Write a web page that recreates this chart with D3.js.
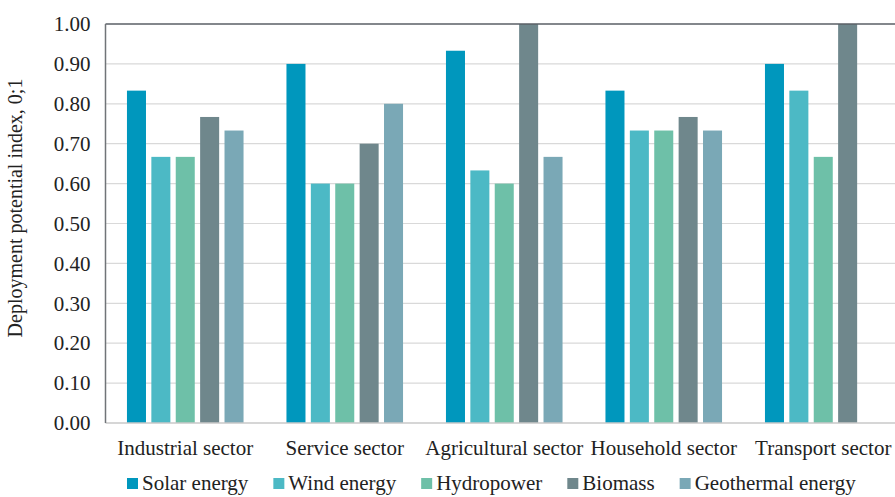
<!DOCTYPE html>
<html><head><meta charset="utf-8">
<script src="https://cdn.jsdelivr.net/npm/d3@7"></script>
<style>body{margin:0;background:#fff}svg{display:block}</style>
</head><body><svg id="c" width="895" height="497"></svg>
<script>
const categories = ["Industrial sector","Service sector","Agricultural sector","Household sector","Transport sector"];
const seriesNames = ["Solar energy","Wind energy","Hydropower","Biomass","Geothermal energy"];
const solar = [0.833,0.900,0.933,0.833,0.900];
const wind = [0.667,0.600,0.633,0.733,0.833];
const hydro = [0.667,0.600,0.600,0.733,0.667];
const biomass = [0.767,0.700,1.000,0.767,1.000];
const geothermal = [0.733,0.800,0.667,0.733,null];
const yTicks = [0,0.1,0.2,0.3,0.4,0.5,0.6,0.7,0.8,0.9,1.0];
const colors = ["#0097bd","#4cb9c5","#6ec0a8","#6f878c","#7aa8b6"];
const seriesValues = [solar,wind,hydro,biomass,geothermal];
const FONT = "'Liberation Serif', 'Times New Roman', serif";

const svg = d3.select("#c");
const pLeft = 105.5, pRight = 903, pTop = 24, pBottom = 423;
const x0 = d3.scaleBand().domain(categories).range([pLeft,pRight]).padding(0);
const x1 = d3.scaleBand().domain(seriesNames).range([0,x0.bandwidth()]).paddingInner(0.22).paddingOuter(0.88);
const y = d3.scaleLinear().domain([0,1]).range([pBottom,pTop]);

// gridlines
svg.append("g").selectAll("line").data(yTicks.filter(d=>d>0 && d<1)).join("line")
  .attr("x1",pLeft).attr("x2",895).attr("y1",d=>y(d)).attr("y2",d=>y(d))
  .attr("stroke","#d9d9d9").attr("stroke-width",1.2);

// bars
const g = svg.append("g");
categories.forEach((c,i)=>{
  seriesNames.forEach((s,j)=>{
    const v = seriesValues[j][i];
    if(v==null) return;
    g.append("rect").attr("x",x0(c)+x1(s)).attr("width",x1.bandwidth())
      .attr("y",y(v)).attr("height",y(0)-y(v)).attr("fill",colors[j]);
  });
});

// top border line
svg.append("line").attr("x1",pLeft).attr("x2",895).attr("y1",y(1)).attr("y2",y(1)).attr("stroke","#5a5f66").attr("stroke-width",1.5);
// bottom axis
svg.append("line").attr("x1",pLeft).attr("x2",895).attr("y1",y(0)).attr("y2",y(0)).attr("stroke","#c8c8c8").attr("stroke-width",1.5);
// left axis
svg.append("line").attr("x1",pLeft).attr("x2",pLeft).attr("y1",y(1)).attr("y2",y(0)).attr("stroke","#707478").attr("stroke-width",1.5);

// y tick labels
const yAxis = d3.axisLeft(y).tickValues(yTicks).tickFormat(d3.format(".2f")).tickSize(0).tickPadding(15);
const ya = svg.append("g").attr("transform",`translate(${pLeft},0)`).call(yAxis);
ya.select(".domain").remove();
ya.attr("font-family",null).attr("font-size",null);
ya.selectAll("text").style("font-family",FONT).style("font-size","21px").attr("fill","#222");

// x labels
const xAxis = d3.axisBottom(x0).tickSize(0).tickPadding(17);
const xa = svg.append("g").attr("transform",`translate(0,${pBottom})`).call(xAxis);
xa.select(".domain").remove();
xa.attr("font-family",null).attr("font-size",null);
xa.selectAll("text").style("font-family",FONT).style("font-size","21px").attr("fill","#222");

// y title
svg.append("text").attr("transform","translate(22,208) rotate(-90)").attr("text-anchor","middle")
  .style("font-family",FONT).style("font-size","20px").attr("fill","#222").text("Deployment potential index, 0;1");

// legend
const lg = svg.append("g").attr("transform","translate(127,490)");
let xpos = 0;
seriesNames.forEach((s,j)=>{
  const it = lg.append("g").attr("transform",`translate(${xpos},0)`);
  it.append("rect").attr("x",0).attr("y",-12).attr("width",11).attr("height",11).attr("fill",colors[j]);
  const t = it.append("text").attr("x",15).attr("y",0).style("font-family",FONT).style("font-size","21px").attr("fill","#222").text(s);
  xpos += 15 + t.node().getComputedTextLength() + 25;
});
</script></body></html>
